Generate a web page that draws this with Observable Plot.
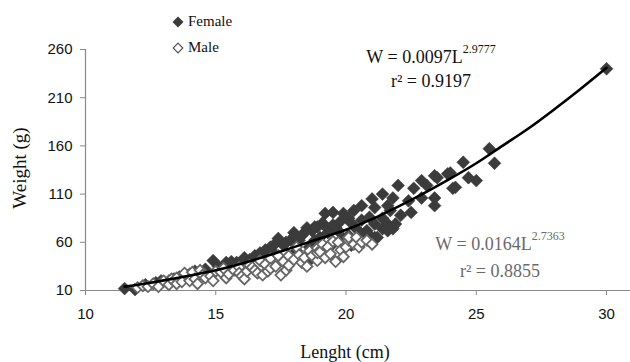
<!DOCTYPE html>
<html>
<head>
<meta charset="utf-8">
<script src="https://cdn.jsdelivr.net/npm/d3@7"></script>
<script src="https://cdn.jsdelivr.net/npm/@observablehq/plot@0.6"></script>
<style>
  html, body { margin: 0; padding: 0; background: #fff; }
  #wrap { position: relative; width: 630px; height: 362px; overflow: hidden; }
  #wrap > svg { position: absolute; left: 0; top: 0; }
  .serif { font-family: "Liberation Serif", "Times New Roman", serif; position: absolute; white-space: nowrap; color: #111; }
  .eq { text-align: center; font-size: 18px; line-height: 18px; width: 200px; }
  .eq sup { font-size: 12px; line-height: 0; vertical-align: 0; position: relative; top: -10px; }
  .leg { font-size: 15px; display: flex; align-items: center; }
  .leg svg { position: static; margin-right: 4px; }
</style>
</head>
<body>
<div id="wrap"></div>
<script>
// ---- data (Length cm, Weight g) ----
const femaleL = [11.5,11.9,12.3,12.7,12.9,13.2,13.4,13.6,13.9,14.0,14.2,14.3,14.6,14.9,15.1,15.4,15.5,15.6,15.8,16.0,16.1,16.3,16.5,16.7,16.8,16.9,17.0,17.1,17.2,17.3,17.4,17.6,17.7,17.9,18.0,18.0,18.1,18.2,18.3,18.4,18.4,18.5,18.6,18.6,18.7,18.8,18.8,18.9,19.0,19.1,19.2,19.3,19.3,19.4,19.5,19.5,19.6,19.7,19.8,19.8,19.9,19.9,20.1,20.1,20.2,20.2,20.3,20.4,20.4,20.6,20.6,20.7,20.8,20.9,20.9,21.0,21.1,21.1,21.1,21.2,21.4,21.4,21.4,21.6,21.6,21.6,21.7,21.8,21.8,21.9,22.0,22.1,22.4,22.5,22.6,22.9,22.9,23.1,23.4,23.4,23.4,23.5,23.9,24.0,24.1,24.2,24.5,24.7,25.0,25.5,25.7,30.0];
const femaleW = [12,11,16,18,20,20,22,24,25,27,30,28,32,41,35,39,36,40,39,40,44,42,46,49,47,52,50,55,50,59,64,57,60,62,66,70,51,62,67,70,39,75,55,41,72,76,62,76,65,80,90,74,70,56,91,78,75,72,82,58,64,90,85,67,57,80,93,74,62,83,98,69,72,67,86,105,96,79,65,65,110,85,74,98,72,79,93,106,74,79,119,88,103,91,116,106,124,119,98,106,129,127,131,132,116,117,143,127,124,157,142,240];

const maleL = [12.0,12.2,12.4,12.6,12.8,13.0,13.2,13.3,13.5,13.5,13.7,13.8,14.0,14.1,14.2,14.3,14.4,14.5,14.6,14.8,14.9,15.0,15.2,15.3,15.4,15.5,15.7,15.9,15.9,16.0,16.1,16.2,16.3,16.4,16.5,16.6,16.7,16.8,16.9,17.0,17.1,17.1,17.3,17.4,17.5,17.6,17.7,17.8,17.8,18.0,18.1,18.2,18.3,18.4,18.5,18.6,18.7,18.9,18.9,18.9,19.0,19.1,19.2,19.3,19.4,19.5,19.6,19.7,19.8,19.9,20.0,20.1,20.1,20.3,20.4,20.5,20.6,20.8,21.0];
const maleW = [13,15,14,17,14,20,16,22,23,17,19,28,20,29,22,17,31,26,23,25,20,30,29,33,23,27,31,34,28,25,22,30,36,34,31,28,41,26,37,30,43,33,35,46,26,40,31,46,36,42,55,47,39,44,35,51,46,54,41,49,50,58,44,55,48,61,40,60,52,45,55,62,65,58,65,55,60,62,58];

// female fitted curve
const curveL = [11.5,12.5,13.5,15,16.5,18,19,20,21,22,23,24,25,26,27,28,29,30];
const curveW = [14,18,23,31,42,55,64,73,84,97,111,126,142,160,178,198,219,241];

const xTicks = [10,15,20,25,30];
const yTicks = [10,60,110,160,210,260];

const female = femaleL.map((L,i) => ({L, W: femaleW[i]}));
const male = maleL.map((L,i) => ({L, W: maleW[i]}));
const curve = curveL.map((L,i) => ({L, W: curveW[i]}));

const chart = Plot.plot({
  width: 630,
  height: 362,
  marginLeft: 85,
  marginRight: 0,
  marginTop: 49,
  marginBottom: 72,
  style: { fontFamily: "Liberation Sans, Arial, sans-serif", fontSize: "15px", color: "#111", background: "white" },
  x: { domain: [10, 30.92], ticks: xTicks, label: null },
  y: { domain: [10, 260], ticks: yTicks, label: null },
  marks: [
    Plot.axisX({ ticks: xTicks, tickSize: 5, tickPadding: 13, stroke: "#888", label: null, fontSize: 15, fill: "#111" }),
    Plot.axisY({ ticks: yTicks, tickSize: 5, tickPadding: 8, stroke: "#888", label: null, fontSize: 15, fill: "#111" }),
    Plot.ruleY([10], { stroke: "#888", strokeWidth: 1.2 }),
    Plot.ruleX([10], { stroke: "#888", strokeWidth: 1.2 }),
    Plot.dot(female, { x: "L", y: "W", symbol: "diamond2", r: 5.8, fill: "#3b3b3b", stroke: "#3b3b3b", strokeWidth: 0.5 }),
    Plot.dot(male, { x: "L", y: "W", symbol: "diamond2", r: 4.9, fill: "white", stroke: "#666", strokeWidth: 1.8 }),
    Plot.line(curve, { x: "L", y: "W", stroke: "black", strokeWidth: 2.6, curve: "catmull-rom" })
  ]
});

const wrap = document.getElementById("wrap");
wrap.appendChild(chart);

function addHTML(html) {
  const d = document.createElement("div");
  d.innerHTML = html;
  while (d.firstChild) wrap.appendChild(d.firstChild);
}

const diamondFilled = '<svg width="12" height="12" viewBox="0 0 12 12"><polygon points="6,0.5 11.5,6 6,11.5 0.5,6" fill="#3b3b3b"/></svg>';
const diamondOpen = '<svg width="12" height="12" viewBox="0 0 12 12"><polygon points="6,1.2 10.8,6 6,10.8 1.2,6" fill="white" stroke="#555" stroke-width="1.2"/></svg>';

addHTML(`
<div class="serif leg" style="left:172px; top:13px;">${diamondFilled}<span>Female</span></div>
<div class="serif leg" style="left:172px; top:39px;">${diamondOpen}<span>Male</span></div>
<div class="serif eq" style="left:331px; top:48px;">W = 0.0097L<sup>2.9777</sup></div>
<div class="serif eq" style="left:331px; top:72px;">r² = 0.9197</div>
<div class="serif eq" style="left:400px; top:235px; color:#6a6a6a;">W = 0.0164L<sup>2.7363</sup></div>
<div class="serif eq" style="left:400px; top:262px; color:#6a6a6a;">r² = 0.8855</div>
<div class="serif" style="left:345px; top:342px; transform:translateX(-50%); font-size:18px;">Lenght (cm)</div>
<div class="serif" style="left:20px; top:168px; transform:translate(-50%,-50%) rotate(-90deg); font-size:19px;">Weight (g)</div>
`);
</script>
</body>
</html>
